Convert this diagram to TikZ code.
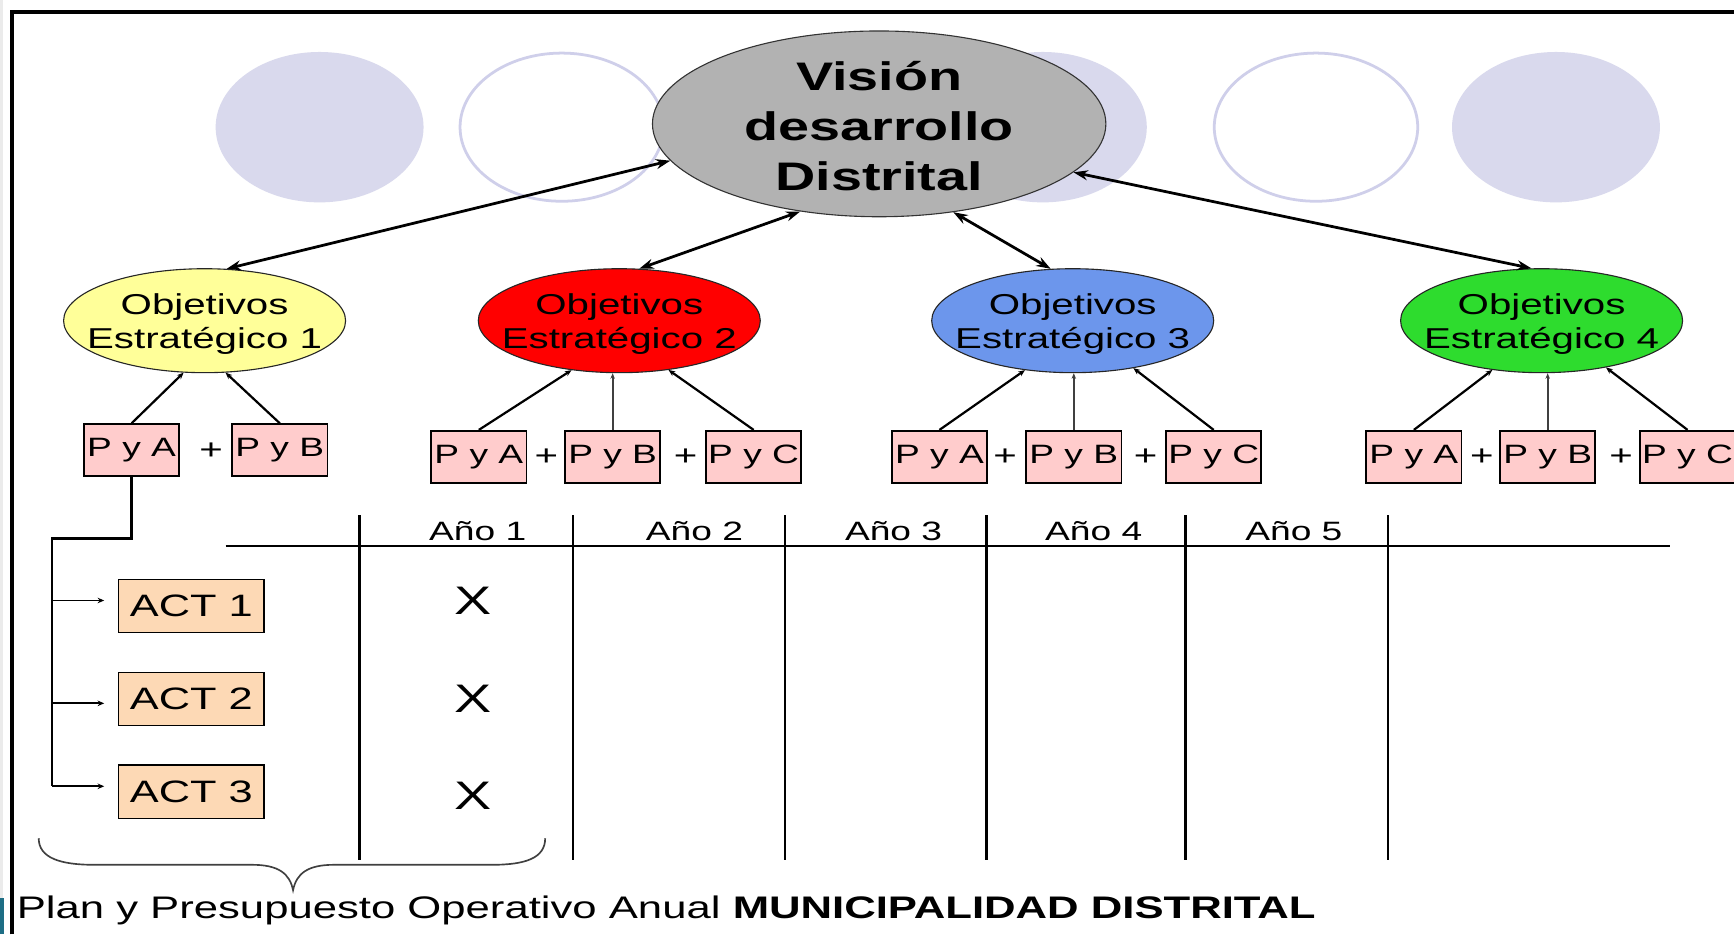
\documentclass[tikz,border=0pt]{standalone}
\usepackage{fontspec}
\setmainfont{Liberation Sans}[FakeStretch=1.4]
\usetikzlibrary{shapes.geometric,arrows.meta,calc}
\definecolor{lav}{HTML}{D9D9ED}
\definecolor{lavline}{HTML}{CFCFEA}
\definecolor{visgray}{HTML}{B2B2B2}
\definecolor{oeyellow}{HTML}{FFFF99}
\definecolor{oered}{HTML}{FF0000}
\definecolor{oeblue}{HTML}{6C96EC}
\definecolor{oegreen}{HTML}{2EDC2E}
\definecolor{pinkbox}{HTML}{FFCCCC}
\definecolor{peach}{HTML}{FDD9B5}
\definecolor{tealblk}{HTML}{1E6E85}
\tikzset{
 vis/.style={ellipse, draw=black!80, line width=1pt, fill=visgray, minimum width=410pt, minimum height=168pt, inner sep=0pt},
 vistext/.style={inner sep=0pt, align=center, font=\fontsize{36}{45}\selectfont\bfseries},
 oe/.style={ellipse, draw=black!85, line width=1pt, minimum width=255pt, minimum height=94pt, inner sep=0pt},
 oetext/.style={inner sep=0pt, align=center, font=\fontsize{26}{31}\selectfont},
 pbox/.style={rectangle, draw=black, line width=1.5pt, fill=pinkbox, minimum width=86pt, minimum height=47pt, inner sep=0pt, font=\fontsize{24}{24}\selectfont},
 actbox/.style={rectangle, draw=black, line width=1.5pt, fill=peach, minimum width=132pt, minimum height=48pt, inner sep=0pt, font=\fontsize{28}{28}\selectfont},
 plussign/.style={inner sep=0pt, font=\fontsize{26}{26}\selectfont},
 yearlbl/.style={inner sep=0pt, font=\fontsize{24}{24}\selectfont},
 xmark/.style={inner sep=0pt, font=\fontsize{36}{36}\selectfont},
 bigarrow/.style={{Stealth[length=13pt,width=9pt]}-{Stealth[length=13pt,width=9pt]}, line width=2.5pt},
 smallarrow/.style={-{Stealth[length=6pt,width=5pt]}, line width=2pt},
 branch/.style={-{Stealth[length=6pt,width=5pt]}, line width=1.6pt},
 midarrow/.style={-{Stealth[length=5pt,width=4pt]}, line width=1.7pt, black!75},
 tline/.style={line width=2pt},
 bgfill/.style={fill=lav},
 bgring/.style={draw=lavline, line width=2.5pt},
}
\begin{document}
\begin{tikzpicture}[x=1pt,y=-1pt]
\useasboundingbox (0,0) rectangle (1568,845);
\fill[white] (0,0) rectangle (1568,845);
% left strip and frame
\fill[black!8] (0,0) rectangle (3,845);
\fill[tealblk] (0,812) rectangle (4,845);
\draw[line width=4pt] (11,845) -- (11,11) -- (1568,11);
% background circles
\fill[bgfill] (289,115) ellipse [x radius=94, y radius=68];
\draw[bgring] (508,115) ellipse [x radius=92, y radius=67];
\fill[bgfill] (943,115) ellipse [x radius=94, y radius=68];
\draw[bgring] (1190,115) ellipse [x radius=92, y radius=67];
\fill[bgfill] (1407,115) ellipse [x radius=94, y radius=68];
% vision
\node[vis] (vis) at (795,112) {};
\node[vistext] (vist) at (795,114) {Visión\\desarrollo\\Distrital};
% objectives
\node[oe, fill=oeyellow] (oe1) at (185,290) {};
\node[oe, fill=oered] (oe2) at (560,290) {};
\node[oe, fill=oeblue] (oe3) at (970,290) {};
\node[oe, fill=oegreen] (oe4) at (1394,290) {};
\node[oetext] (oe1t) at (185,293) {Objetivos\\Estratégico 1};
\node[oetext] (oe2t) at (560,293) {Objetivos\\Estratégico 2};
\node[oetext] (oe3t) at (970,293) {Objetivos\\Estratégico 3};
\node[oetext] (oe4t) at (1394,293) {Objetivos\\Estratégico 4};
% vision arrows
\draw[bigarrow] (oe1.67) -- (vis.190);
\draw[bigarrow] (oe2.69) -- (vis.228);
\draw[bigarrow] (oe3.113) -- (vis.310);
\draw[bigarrow] (oe4.101) -- (vis.346);
% P y boxes
\node[pbox] (pa1) at (119,407) {P y A};
\node[pbox] (pb1) at (253,407) {P y B};
\node[plussign] (p11) at (191,408) {+};
\node[pbox] (pa2) at (433,413) {P y A};
\node[pbox] (pb2) at (554,413) {P y B};
\node[pbox] (pc2) at (681.5,413) {P y C};
\node[plussign] (p21) at (494,413) {+};
\node[plussign] (p22) at (620,413) {+};
\node[pbox] (pa3) at (849.5,413) {P y A};
\node[pbox] (pb3) at (971,413) {P y B};
\node[pbox] (pc3) at (1097.5,413) {P y C};
\node[plussign] (p31) at (909,413) {+};
\node[plussign] (p32) at (1036,413) {+};
\node[pbox] (pa4) at (1278.5,413) {P y A};
\node[pbox] (pb4) at (1399.5,413) {P y B};
\node[pbox] (pc4) at (1526,413) {P y C};
\node[plussign] (p41) at (1340,413) {+};
\node[plussign] (p42) at (1466,413) {+};
% box to objective arrows
\draw[smallarrow] (pa1.north) -- (oe1.248);
\draw[smallarrow] (pb1.north) -- (oe1.292);
\draw[smallarrow] (pa2.north) -- (oe2.226);
\draw[midarrow] (pb2.north) -- (pb2.north |- oe2.south);
\draw[smallarrow] (pc2.north) -- (oe2.315);
\draw[smallarrow] (pa3.north) -- (oe3.226);
\draw[midarrow] (pb3.north) -- (pb3.north |- oe3.south);
\draw[smallarrow] (pc3.north) -- (oe3.322);
\draw[smallarrow] (pa4.north) -- (oe4.225);
\draw[midarrow] (pb4.north) -- (pb4.north |- oe4.south);
\draw[smallarrow] (pc4.north) -- (oe4.324);
% table
\draw[tline] (204,494) -- (1510,494);
\foreach \x in {325,518,710,892,1072,1255} \draw[tline] (\x,466) -- (\x,778);
\node[yearlbl] (y1) at (432,480) {Año 1};
\node[yearlbl] (y2) at (628,480) {Año 2};
\node[yearlbl] (y3) at (808,480) {Año 3};
\node[yearlbl] (y4) at (989,480) {Año 4};
\node[yearlbl] (y5) at (1170,480) {Año 5};
% activities
\node[actbox] (act1) at (173,548) {ACT 1};
\node[actbox] (act2) at (173,632) {ACT 2};
\node[actbox] (act3) at (173,716) {ACT 3};
\node[xmark] (x1) at (428,543) {X};
\node[xmark] (x2) at (428,632) {X};
\node[xmark] (x3) at (428,720) {X};
\coordinate (tk) at (47,487);
\coordinate (tb) at (47,711);
\draw[tline] (pa1.south) |- (tk) -- (tb);
\coordinate (b1) at ($(act1.west)+(0,-5)$);
\coordinate (b2) at ($(act2.west)+(0,4)$);
\coordinate (b3) at ($(act3.west)+(0,-5)$);
\draw[branch, shorten >=12pt] (tk |- b1) -- (b1);
\draw[branch, shorten >=12pt] (tk |- b2) -- (b2);
\draw[branch, shorten >=12pt] (tb) -- (b3);
% brace
\draw[line width=1.5pt, black!75] (35,758) .. controls (35,776) and (55,782) .. (85,782) -- (228,782) .. controls (252,782) and (262,790) .. (265,805) .. controls (268,790) and (278,782) .. (302,782) -- (445,782) .. controls (475,782) and (493,776) .. (493,758);
% caption
\node[anchor=base west, inner sep=0pt, font=\fontsize{28.2}{28.2}\selectfont] (cap) at (15,831) {Plan y Presupuesto Operativo Anual \textbf{MUNICIPALIDAD DISTRITAL}};
\end{tikzpicture}
\end{document}
